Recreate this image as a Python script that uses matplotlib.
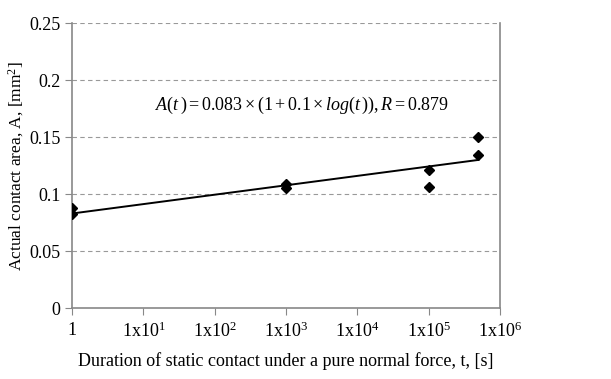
import matplotlib
matplotlib.use('Agg')
import matplotlib.pyplot as plt
from matplotlib.ticker import FixedLocator, NullLocator

plt.rcParams['font.family'] = 'Liberation Serif'
plt.rcParams['mathtext.fontset'] = 'custom'
plt.rcParams['mathtext.rm'] = 'Liberation Serif'
plt.rcParams['mathtext.it'] = 'Liberation Serif:italic'

# measured points
t_data = [1, 1, 1e3, 1e3, 1e5, 1e5, 5e5, 5e5]
A_data = [0.088, 0.083, 0.109, 0.105, 0.121, 0.106, 0.150, 0.134]

# trend line end points
fit_t = [1, 5e5]
fit_A = [0.083, 0.130]

xticks = [1, 1e1, 1e2, 1e3, 1e4, 1e5, 1e6]
xlabels = ['1', r'1x10$^{1}$', r'1x10$^{2}$', r'1x10$^{3}$', r'1x10$^{4}$', r'1x10$^{5}$', r'1x10$^{6}$']
yticks = [0, 0.05, 0.1, 0.15, 0.2, 0.25]
ylabels = ['0', '0.05', '0.1', '0.15', '0.2', '0.25']

fig = plt.figure(figsize=(6.11, 3.79), dpi=100)
ax = fig.add_axes([0.118, 0.187, 0.700, 0.752])

ax.plot(fit_t, fit_A, color='black', lw=1.4, zorder=3)
ax.plot(t_data, A_data, 'D', color='black', ms=5, zorder=4)

ax.set_xscale('log')
ax.set_xlim(1, 1e6)
ax.set_ylim(0, 0.25)
ax.xaxis.set_major_locator(FixedLocator(xticks))
ax.xaxis.set_minor_locator(NullLocator())
ax.set_xticklabels(xlabels, fontsize=13)
ax.set_yticks(yticks)
ax.set_yticklabels(ylabels, fontsize=13)
ax.tick_params(axis='x', pad=5, length=5, color='#888888')
ax.tick_params(axis='y', length=5, color='#888888')

for y in yticks[1:]:
    ax.axhline(y, color='#999999', lw=0.8, ls=(0, (4, 3)), zorder=1)

for side in ['left', 'bottom', 'right']:
    ax.spines[side].set_color('#888888')
    ax.spines[side].set_linewidth(1.2)
ax.spines['top'].set_visible(False)

ax.text(0.537, 0.71, r'$A(t\,) = 0.083\times(1 + 0.1\times log(t\,)), R = 0.879$',
        transform=ax.transAxes, ha='center', va='center', fontsize=13)

ax.set_ylabel('Actual contact area, A, [mm$^{2}$]', fontsize=12.5, labelpad=2)
ax.set_xlabel('Duration of static contact under a pure normal force, t, [s]', fontsize=13, labelpad=8)

fig.savefig('out.png', dpi=100)
